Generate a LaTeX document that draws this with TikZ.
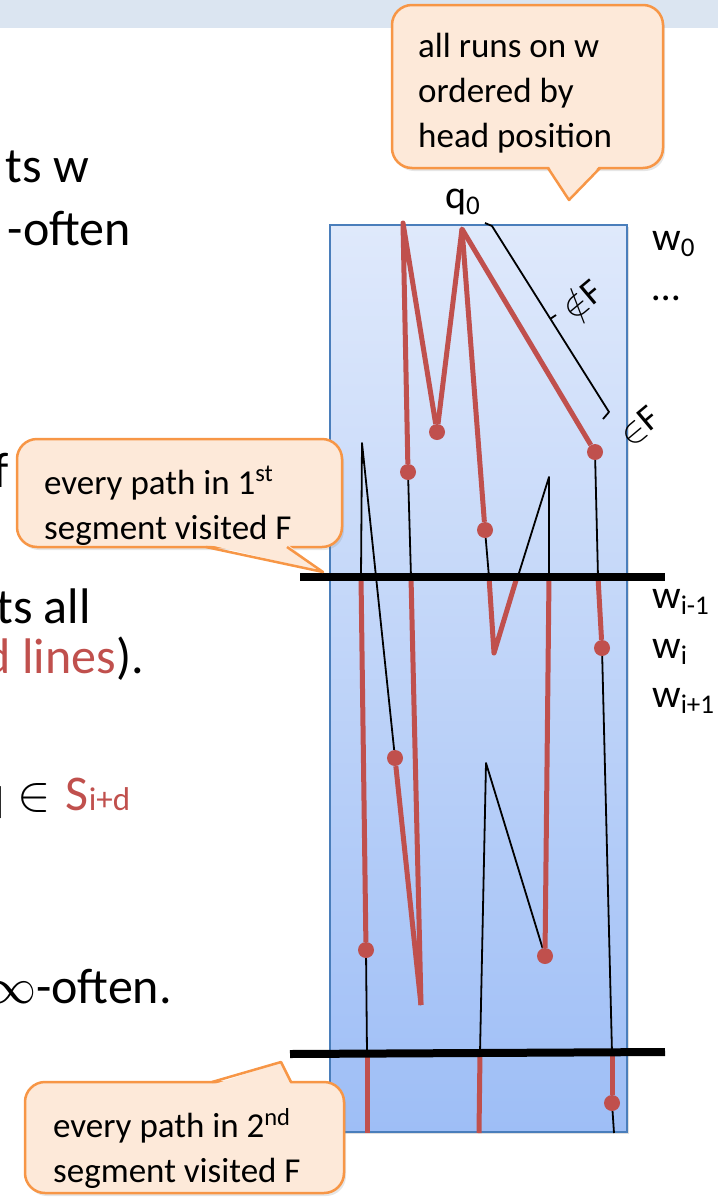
\RequirePackage{fix-cm}
\documentclass[tikz,border=0pt]{standalone}
\usepackage{fontspec}
\setmainfont{Carlito}
\usetikzlibrary{shadows}
\definecolor{runred}{RGB}{192,80,77}
\definecolor{calledge}{RGB}{247,150,70}
\definecolor{callfill}{RGB}{253,233,217}
\definecolor{bandblue}{RGB}{219,229,241}
\definecolor{tapeedge}{RGB}{74,126,187}
\definecolor{tapetop}{RGB}{223,233,251}
\definecolor{tapebot}{RGB}{158,190,246}
\newcommand{\wsub}[1]{\raisebox{-6pt}{\fontsize{27}{27}\selectfont #1}}
\tikzset{
  tape/.style    ={draw=tapeedge, line width=2pt, top color=tapetop, bottom color=tapebot, inner sep=0pt,
                   drop shadow={opacity=.25, shadow xshift=2pt, shadow yshift=-2pt}},
  runline/.style ={draw=runred, line width=5pt, line join=round},
  blkline/.style ={draw=black, line width=1.8pt, line join=round},
  cutline/.style ={draw=black, line width=8pt},
  rundot/.style  ={circle, fill=runred, inner sep=0pt, minimum size=16pt},
  callbox/.style ={draw=calledge, line width=2.5pt, fill=callfill, rounded corners=20pt, inner sep=0pt,
                   drop shadow={opacity=.2, shadow xshift=2pt, shadow yshift=-3pt}},
  calltip/.style ={draw=calledge, line width=2.5pt, line join=round},
  calltxt/.style ={font=\fontsize{35}{45}\selectfont, align=left, inner sep=0pt, anchor=north west},
  bodytxt/.style ={font=\fontsize{50}{60}\selectfont, inner sep=0pt, anchor=base east},
  wlbl/.style    ={font=\fontsize{40}{48}\selectfont, inner sep=0pt, anchor=base west},
  flbl/.style    ={font=\fontsize{36}{40}\selectfont, inner sep=0pt, rotate=40},
}

\begin{document}
\begin{tikzpicture}[x=1pt, y=-1pt]
\useasboundingbox (0,0) rectangle (718,1197);
\clip (0,0) rectangle (718,1197);
\fill[bandblue] (0,0) rectangle (718,28);

\node[bodytxt] (tsw) at (89,182) {ts w};
\node[bodytxt] (often1) at (131,245) {-often};
\node[bodytxt] (fcut) at (9,487) {f};
\node[bodytxt] (tsall) at (91,623) {ts all};
\node[bodytxt] (lines) at (144,673) {{\color{runred}d lines}).};
\node[bodytxt, anchor=base west] (qin) at (-22,810) {q\hspace{13pt}$\in$\hspace{15pt}{\color{runred}S\fontsize{33}{40}\selectfont i+d}};
\node[bodytxt] (often2) at (172,1003) {$\infty$-often.};

\node[tape, minimum width=297pt, minimum height=907pt] (tape) at (478.5,678.5) {};

\coordinate (mL) at (403,223); \coordinate (q0pt) at (462,229);
\coordinate (a2) at (411,577); \coordinate (e0) at (361,577); \coordinate (e1) at (362,443);
\coordinate (e3) at (367,1053); \coordinate (e4) at (367,1133); \coordinate (g) at (421,1005);
\coordinate (c2) at (489,577); \coordinate (c3) at (494,653); \coordinate (c4) at (517,577);
\coordinate (c5) at (549,477); \coordinate (c6) at (549,577);
\coordinate (h2) at (486,763); \coordinate (h3) at (480,1053); \coordinate (h4) at (479,1133);
\coordinate (d2) at (598,577); \coordinate (d4) at (612,1053); \coordinate (d6) at (614,1133);

\node[rundot] (dA) at (408,472) {}; \node[rundot] (dB) at (437,432) {};
\node[rundot] (dC) at (485,530) {}; \node[rundot] (dD) at (595,452) {};
\node[rundot] (dE) at (366,950) {}; \node[rundot] (dF) at (395,758) {};
\node[rundot] (dG) at (545,956) {}; \node[rundot] (dH) at (602,648) {};
\node[rundot] (dI) at (612,1103) {};

\draw[blkline] (dA) -- (a2);
\draw[blkline] (e0) -- (e1) -- (dF) -- (g);
\draw[blkline] (dC) -- (c2);
\draw[blkline] (c3) -- (c5) -- (c6);
\draw[blkline] (dD) -- (d2);
\draw[blkline] (dE) -- (e3);
\draw[blkline] (dG) -- (h2) -- (h3);
\draw[blkline] (dH) -- (d4);
\draw[blkline] (dI) -- (d6);

\draw[runline] (dA) -- (mL) -- (dB) -- (q0pt) -- (dD);
\draw[runline] (q0pt) -- (dC);
\draw[runline] (a2) -- (g); \draw[runline] (dF) -- (g);
\draw[runline] (e0) -- (dE); \draw[runline] (e3) -- (e4);
\draw[runline] (c2) -- (c3) -- (c4);
\draw[runline] (c6) -- (dG); \draw[runline] (h3) -- (h4);
\draw[runline] (d2) -- (dH); \draw[runline] (d4) -- (dI);

\coordinate (s1w) at (300,577); \coordinate (s1e) at (665,577);
\coordinate (s2w) at (290,1054); \coordinate (s2e) at (665,1052);
\draw[cutline] (s1w) -- (s1e);
\draw[cutline] (s2w) -- (s2e);

\coordinate (br0) at (485,223); \coordinate (br1) at (492,226); \coordinate (br2) at (609,412);
\coordinate (br3) at (603,419); \coordinate (brm) at (550,319); \coordinate (brt) at (556,315);
\draw[blkline] (br0) -- (br1) -- (br2) -- (br3);
\draw[blkline] (brm) -- (brt);
\node[flbl] (notF) at (581,299) {$\notin$F};
\node[flbl] (inF) at (640,427) {$\in$F};

\node[wlbl] (q0lbl) at (445,208) {q\wsub{0}};
\node[wlbl] (w0) at (652,250) {w\wsub{0}};
\node[wlbl] (wdots) at (652,300) {\ldots};
\node[wlbl] (wim) at (652,608) {w\wsub{i-1}};
\node[wlbl] (wi) at (652,658) {w\wsub{i}};
\node[wlbl] (wip) at (652,707) {w\wsub{i+1}};

\node[callbox, minimum width=271pt, minimum height=163pt] (runsbox) at (527.5,86.5) {};
\coordinate (runsL) at (548,168); \coordinate (runsR) at (600,168); \coordinate (runsT) at (569,200);
\fill[callfill] ([yshift=3pt]runsL) -- (runsT) -- ([yshift=3pt]runsR) -- cycle;
\draw[calltip] (runsL) -- (runsT) -- (runsR);
\node[calltxt] (runstxt) at (418,33) {all runs on w\\ordered by\\head position};

\node[callbox, minimum width=325pt, minimum height=108pt] (seg1box) at (179.5,493) {};
\coordinate (seg1L) at (206,547); \coordinate (seg1R) at (287,547); \coordinate (seg1T) at (323,572);
\fill[callfill] ([yshift=3pt]seg1L) -- (seg1T) -- ([yshift=3pt]seg1R) -- cycle;
\draw[calltip] (seg1L) -- (seg1T) -- (seg1R);
\node[calltxt] (seg1txt) at (44,466) {every path in 1\textsuperscript{st}\\segment visited F};

\node[callbox, minimum width=319pt, minimum height=111pt] (seg2box) at (184.5,1137.5) {};
\coordinate (seg2L) at (212,1082); \coordinate (seg2R) at (291,1082); \coordinate (seg2T) at (281,1062);
\fill[callfill] ([yshift=-3pt]seg2L) -- (seg2T) -- ([yshift=-3pt]seg2R) -- cycle;
\draw[calltip] (seg2L) -- (seg2T) -- (seg2R);
\node[calltxt] (seg2txt) at (53,1108) {every path in 2\textsuperscript{nd}\\segment visited F};
\end{tikzpicture}
\end{document}
